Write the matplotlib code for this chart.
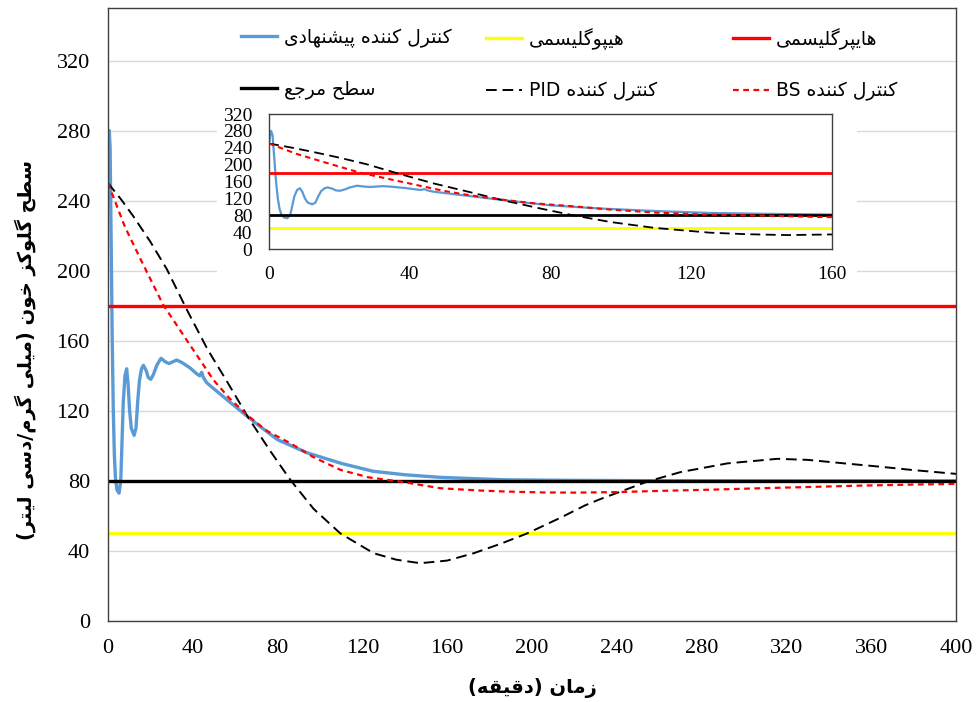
import re
import matplotlib
matplotlib.use("Agg")
import matplotlib.pyplot as plt

# ---- data ----
t_prop = [0, 0.3, 0.6, 1.0, 1.5, 2.0, 2.5, 3.0, 3.5, 4.2, 5.2, 6.0, 6.5, 7.2, 8.0, 8.8,
          9.5, 10.2, 11.0, 12.3, 13.2, 14.0, 14.8, 15.8, 16.7, 18.0, 19.0, 20.2, 21.5,
          23.0, 25.0, 27.0, 28.8, 30.5, 32.4, 35, 38.7, 42, 43.2, 44.2, 45, 46.6, 50,
          55, 60, 65.5, 71.8, 80, 94, 110, 125, 140, 157, 188, 220, 260, 300, 400]
g_prop = [250, 268, 280, 270, 215, 160, 120, 95, 82, 75, 73, 80, 98, 125, 140, 144,
          135, 120, 110, 106, 110, 125, 137, 144, 146, 143, 139, 138, 141,
          146, 150, 148, 147, 148, 149, 147.5, 144.5, 141, 140, 142, 139, 136, 132.5,
          127.5, 122.5, 117, 111, 103.5, 96, 90, 85.5, 83.5, 82, 80.6, 80.3, 80.1, 80.05, 80]

t_pid = [0, 6, 12, 20, 27.7, 37.5, 47, 56.5, 66, 76, 86, 97, 109.6, 125.3, 136, 147.3,
         160, 172.5, 185, 197.7, 213.5, 225, 232, 254.4, 270, 292.2, 315.8, 330, 347.3,
         365, 378.7, 400]
g_pid = [250, 241, 231, 216.5, 201, 177, 155, 136, 116.5, 98, 80.6, 64, 50, 38.7, 35,
         33, 34.5, 38.7, 44, 50, 59, 66, 69.5, 79.6, 85, 90, 92.6, 92, 90, 88, 86.3, 84]

t_bs = [0, 8, 16, 26, 37, 49.7, 57, 65.5, 75, 86, 97, 109.6, 123, 137.9, 156.8, 175,
        188, 205, 219.7, 240, 260.7, 285, 307.9, 330, 355.1, 380, 400]
g_bs = [250, 225, 205, 180.6, 160.6, 137.7, 127.5, 117.7, 108.5, 101.5, 93.5, 86.3,
        82, 79.6, 75.8, 74.5, 73.9, 73.4, 73.3, 73.6, 74.3, 75, 75.8, 76.5, 77.3,
        77.9, 78.3]

hypo_level = 50
hyper_level = 180
ref_level = 80

x_ticks = list(range(0, 401, 40))
y_ticks = list(range(0, 321, 40))
inset_x_ticks = list(range(0, 161, 40))
inset_y_ticks = list(range(0, 321, 40))

labels = ["کنترل کننده پیشنهادی", "هیپوگلیسمی", "هایپرگلیسمی",
          "سطح مرجع", "کنترل کننده PID", "کنترل کننده BS"]
x_label = "زمان (دقیقه)"
y_label = "سطح گلوکز خون (میلی گرم/دسی لیتر)"


# ---- minimal Persian shaping (matplotlib has no text shaping) ----
FORMS = {  # isolated, final, initial, medial
    "ا": ("\uFE8D", "\uFE8E", None, None),
    "پ": ("\uFB56", "\uFB57", "\uFB58", "\uFB59"),
    "ت": ("\uFE95", "\uFE96", "\uFE97", "\uFE98"),
    "ج": ("\uFE9D", "\uFE9E", "\uFE9F", "\uFEA0"),
    "ح": ("\uFEA1", "\uFEA2", "\uFEA3", "\uFEA4"),
    "خ": ("\uFEA5", "\uFEA6", "\uFEA7", "\uFEA8"),
    "د": ("\uFEA9", "\uFEAA", None, None),
    "ر": ("\uFEAD", "\uFEAE", None, None),
    "ز": ("\uFEAF", "\uFEB0", None, None),
    "س": ("\uFEB1", "\uFEB2", "\uFEB3", "\uFEB4"),
    "ش": ("\uFEB5", "\uFEB6", "\uFEB7", "\uFEB8"),
    "ط": ("\uFEC1", "\uFEC2", "\uFEC3", "\uFEC4"),
    "ع": ("\uFEC9", "\uFECA", "\uFECB", "\uFECC"),
    "ق": ("\uFED5", "\uFED6", "\uFED7", "\uFED8"),
    "ک": ("\uFB8E", "\uFB8F", "\uFB90", "\uFB91"),
    "گ": ("\uFB92", "\uFB93", "\uFB94", "\uFB95"),
    "ل": ("\uFEDD", "\uFEDE", "\uFEDF", "\uFEE0"),
    "م": ("\uFEE1", "\uFEE2", "\uFEE3", "\uFEE4"),
    "ن": ("\uFEE5", "\uFEE6", "\uFEE7", "\uFEE8"),
    "ه": ("\uFEE9", "\uFEEA", "\uFEEB", "\uFEEC"),
    "و": ("\uFEED", "\uFEEE", None, None),
    "ی": ("\uFBFC", "\uFBFD", "\uFBFE", "\uFBFF"),
}


def shape(text):
    out = []
    for i, ch in enumerate(text):
        if ch not in FORMS:
            out.append(ch)
            continue
        prev = text[i - 1] if i > 0 else ""
        nxt = text[i + 1] if i + 1 < len(text) else ""
        jp = prev in FORMS and FORMS[prev][2] is not None
        jn = nxt in FORMS and FORMS[ch][2] is not None
        iso, fin, ini, med = FORMS[ch]
        if jp and jn:
            out.append(med)
        elif jp:
            out.append(fin)
        elif jn:
            out.append(ini)
        else:
            out.append(iso)
    return "".join(out)


def fa(text):
    parts = re.findall(r"[A-Za-z0-9]+|[^A-Za-z0-9]+", text)
    out = []
    for p in reversed(parts):
        if re.match(r"[A-Za-z0-9]", p):
            out.append(p)
        else:
            out.append(shape(p)[::-1].translate(str.maketrans("()", ")(")))
    return "".join(out)


plt.rcParams["font.family"] = ["Liberation Serif", "DejaVu Sans"]
FA_FONT = ["DejaVu Sans"]

W, H = 976, 702
fig = plt.figure(figsize=(W / 100, H / 100), dpi=100)


def box(x0, y0, x1, y1):
    # pixel box (top-left origin) -> figure fraction rect
    return [x0 / W, 1 - y1 / H, (x1 - x0) / W, (y1 - y0) / H]


def draw_series(a, lw_lvl, lw_blue, lw_dash, pid_dash, bs_dash):
    hs = []
    hs += a.plot(t_prop, g_prop, color="#5B9BD5", lw=lw_blue)
    hs.append(a.axhline(hypo_level, color="#FFFF00", lw=lw_lvl))
    hs.append(a.axhline(hyper_level, color="#FF0000", lw=lw_lvl))
    hs.append(a.axhline(ref_level, color="black", lw=lw_lvl))
    hs += a.plot(t_pid, g_pid, color="black", lw=lw_dash, dashes=pid_dash)
    hs += a.plot(t_bs, g_bs, color="#FF0000", lw=lw_dash + 0.2, dashes=bs_dash)
    return hs


# ---- main chart ----
ax = fig.add_axes(box(108, 8, 956, 621))
handles = draw_series(ax, 2.4, 2.4, 1.4, (5.5, 3.0), (2.6, 2.0))
ax.set_xlim(0, 400)
ax.set_ylim(0, 350)
ax.set_xticks(x_ticks)
ax.set_yticks(y_ticks)
ax.tick_params(length=0, labelsize=16, pad=13)
ax.grid(axis="y", color="#D9D9D9", lw=1)
ax.set_axisbelow(True)
for s in ax.spines.values():
    s.set_color("#404040")
    s.set_linewidth(1)

fig.text(532 / W, 1 - 688 / H, fa(x_label), ha="center", va="center",
         family=FA_FONT, fontweight="bold", fontsize=14)
fig.text(25 / W, 1 - 350 / H, fa(y_label), ha="center", va="center", rotation=90,
         family=FA_FONT, fontweight="bold", fontsize=14)

# ---- inset ----
bg = fig.add_axes(box(217, 95, 857, 292))
bg.set_xticks([])
bg.set_yticks([])
for s in bg.spines.values():
    s.set_visible(False)

axi = fig.add_axes(box(269, 114, 832, 249))
draw_series(axi, 2.0, 1.6, 1.3, (5.5, 3.0), (2.6, 2.0))
axi.set_xlim(0, 160)
axi.set_ylim(0, 320)
axi.set_xticks(inset_x_ticks)
axi.set_yticks(inset_y_ticks)
axi.tick_params(length=0, labelsize=14)
axi.tick_params(axis="x", pad=12)
axi.tick_params(axis="y", pad=12)
for s in axi.spines.values():
    s.set_color("#404040")
    s.set_linewidth(1)

# legend: three columns of two rows, drawn on top of everything
col_x = [241, 486, 733]
for c in range(3):
    fig.legend([handles[c], handles[c + 3]], [fa(labels[c]), fa(labels[c + 3])],
               loc="upper left", bbox_to_anchor=(col_x[c] / W, 1 - 28 / H),
               bbox_transform=fig.transFigure, frameon=False, borderpad=0,
               borderaxespad=0, handlelength=1.9, handletextpad=0.4,
               labelspacing=1.7, prop={"family": FA_FONT, "size": 13.5})

fig.savefig("out.png", dpi=100)
